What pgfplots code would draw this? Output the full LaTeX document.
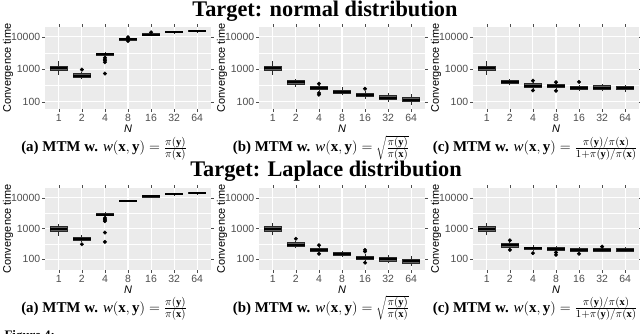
\documentclass[border=0pt]{standalone}
\usepackage{fontspec}
\setmainfont{Liberation Serif}
\setsansfont{Liberation Sans}
\usepackage{pgfplots}
\pgfplotsset{compat=1.18}

\definecolor{panelbg}{HTML}{EBEBEB}
\definecolor{tickgray}{HTML}{4D4D4D}
\definecolor{boxfill}{HTML}{5E5E5E}
\definecolor{boxedge}{HTML}{2A2A2A}

\pgfplotsset{
  every axis/.append style={
    width=166bp, height=82bp, scale only axis,
    xmin=0.4, xmax=7.6,
    xtick={1,...,7}, xticklabels={1,2,4,8,16,32,64},
    ytick={100,1000,10000}, yticklabels={100,1000,10000},
    minor ytick={316.23,3162.3},
    grid=both,
    major grid style={white, line width=1.1bp},
    minor grid style={white, line width=0.55bp},
    axis background/.style={fill=panelbg},
    axis line style={draw=none},
    tick align=outside, major tick length=2.8bp, minor tick length=0bp,
    tick style={tickgray, line width=0.5bp},
    tick label style={font=\sffamily\fontsize{10.5}{12}\selectfont, text=tickgray},
    xticklabel style={yshift=1.5bp},
    yticklabel style={xshift=1.5bp},
    xlabel={\textit{N}}, ylabel={Convergence time},
  },
  every axis label/.append style={font=\sffamily\fontsize{11}{13}\selectfont},
  every axis y label/.style={at={(axis description cs:-0.223,0.5)}, rotate=90, anchor=center},
  every axis x label/.style={at={(axis description cs:0.5,-0.235)}, anchor=center},
  wsk/.style={draw=boxedge, line width=0.8bp, mark=none},
  bxf/.style={draw=boxedge, fill=boxfill, line width=0.9bp, mark=none},
  med/.style={draw=black, line width=2bp, mark=none},
  outl/.style={only marks, mark=*, mark size=1.8bp, mark options={draw=black, fill=black}},
}

% one box: position, lower whisker, q1, median, q3, upper whisker
\newcommand{\bx}[6]{%
  \pgfmathsetmacro\bxl{#1-0.375}\pgfmathsetmacro\bxr{#1+0.375}%
  \addplot[wsk] coordinates {(#1,#2) (#1,#3)};
  \addplot[wsk] coordinates {(#1,#5) (#1,#6)};
  \addplot[bxf] coordinates {(\bxl,#3) (\bxr,#3) (\bxr,#5) (\bxl,#5)} --cycle;
  \addplot[med] coordinates {(\bxl,#4) (\bxr,#4)};
}

\begin{document}
\begin{tikzpicture}
\useasboundingbox (0bp,0bp) rectangle (640bp,334bp);

\node[anchor=base, font=\bfseries\fontsize{22.4}{26}\selectfont] at (325bp,317.3bp) {Target: normal distribution};
\node[anchor=base, font=\bfseries\fontsize{22.4}{26}\selectfont] at (326bp,157.3bp) {Target: Laplace distribution};

% ---- normal, (a)
\begin{axis}[ymode=log, ymin=60, ymax=20000, at={(45bp,225bp)}, anchor=south west]
\bx{1}{680}{900}{1060}{1250}{1750}
\bx{2}{510}{570}{640}{720}{850}
\bx{3}{2430}{2620}{2860}{3060}{3450}
\bx{4}{7700}{7960}{8390}{8960}{9400}
\bx{5}{10900}{11200}{11700}{12300}{12800}
\bx{6}{13100}{13400}{13900}{14400}{14800}
\bx{7}{14100}{14400}{14900}{15400}{15800}
\addplot[outl] coordinates {(2,980) (3,2270) (3,2050) (3,1850) (3,1650) (3,740)
  (4,9700) (4,7450) (5,13700)};
\end{axis}

% ---- normal, (b)
\begin{axis}[ymode=log, ymin=60, ymax=20000, at={(259bp,225bp)}, anchor=south west]
\bx{1}{680}{900}{1060}{1250}{1750}
\bx{2}{290}{341}{393}{452}{508}
\bx{3}{219}{234}{264}{296}{340}
\bx{4}{158}{182}{204}{229}{276}
\bx{5}{125}{141}{161}{186}{210}
\bx{6}{100}{117}{134}{154}{186}
\bx{7}{81}{102}{114}{134}{178}
\addplot[outl] coordinates {(3,360) (3,186) (3,165) (5,252)};
\end{axis}

% ---- normal, (c)
\begin{axis}[ymode=log, ymin=60, ymax=20000, at={(473bp,225bp)}, anchor=south west]
\bx{1}{680}{900}{1060}{1250}{1750}
\bx{2}{331}{372}{417}{468}{500}
\bx{3}{251}{282}{316}{355}{417}
\bx{4}{240}{269}{302}{339}{380}
\bx{5}{214}{240}{269}{302}{339}
\bx{6}{209}{245}{275}{309}{363}
\bx{7}{200}{234}{263}{288}{339}
\addplot[outl] coordinates {(3,447) (3,224) (4,398) (4,219) (5,407)};
\end{axis}

% ---- Laplace, (a)
\begin{axis}[ymode=log, ymin=45, ymax=21000, at={(45bp,64bp)}, anchor=south west]
\bx{1}{585}{820}{975}{1160}{1440}
\bx{2}{378}{425}{470}{530}{615}
\bx{3}{2400}{2650}{2850}{3070}{3550}
\bx{4}{7500}{7740}{8130}{8520}{8700}
\bx{5}{10300}{10600}{11200}{11700}{12100}
\bx{6}{12300}{12600}{13200}{13900}{14300}
\bx{7}{13200}{13500}{14200}{14900}{15300}
\addplot[outl] coordinates {(2,310) (3,2230) (3,2050) (3,1900) (3,1750) (3,745) (3,370)};
\end{axis}

% ---- Laplace, (b)
\begin{axis}[ymode=log, ymin=45, ymax=21000, at={(259bp,64bp)}, anchor=south west]
\bx{1}{598}{822}{1000}{1190}{1520}
\bx{2}{229}{259}{302}{349}{395}
\bx{3}{170}{185}{204}{224}{251}
\bx{4}{122}{135}{148}{163}{185}
\bx{5}{88}{100}{113}{128}{152}
\bx{6}{74}{87}{100}{113}{135}
\bx{7}{63}{74}{86}{100}{128}
\addplot[outl] coordinates {(2,468) (3,287) (3,152) (5,202) (5,180) (5,78)};
\end{axis}

% ---- Laplace, (c)
\begin{axis}[ymode=log, ymin=45, ymax=21000, at={(473bp,64bp)}, anchor=south west]
\bx{1}{598}{822}{1000}{1190}{1520}
\bx{2}{224}{246}{287}{332}{365}
\bx{3}{185}{209}{228}{252}{287}
\bx{4}{177}{199}{218}{240}{272}
\bx{5}{170}{185}{204}{224}{260}
\bx{6}{170}{185}{204}{229}{242}
\bx{7}{170}{185}{204}{224}{250}
\addplot[outl] coordinates {(2,415) (2,204) (3,159) (4,167) (4,140) (5,152) (6,260)};
\end{axis}

% captions
\foreach \yy in {182,22} {
  \node[anchor=base, font=\fontsize{15}{18}\selectfont] at (104bp,\yy bp)
    {\textbf{(a) MTM w.} $\mathit{w}(\mathbf{x},\mathbf{y}) = \frac{\pi(\mathbf{y})}{\pi(\mathbf{x})}$};
  \node[anchor=base, font=\fontsize{15}{18}\selectfont] at (321bp,\yy bp)
    {\textbf{(b) MTM w.} $\mathit{w}(\mathbf{x},\mathbf{y}) = \sqrt{\frac{\pi(\mathbf{y})}{\pi(\mathbf{x})}}$};
  \node[anchor=base, font=\fontsize{15}{18}\selectfont] at (535bp,\yy bp)
    {\textbf{(c) MTM w.} $\mathit{w}(\mathbf{x},\mathbf{y}) = \frac{\pi(\mathbf{y})/\pi(\mathbf{x})}{1+\pi(\mathbf{y})/\pi(\mathbf{x})}$};
}
\node[anchor=base west, font=\bfseries\fontsize{13}{15}\selectfont] at (1bp,-5bp) {Figure 4:};
\end{tikzpicture}
\end{document}
